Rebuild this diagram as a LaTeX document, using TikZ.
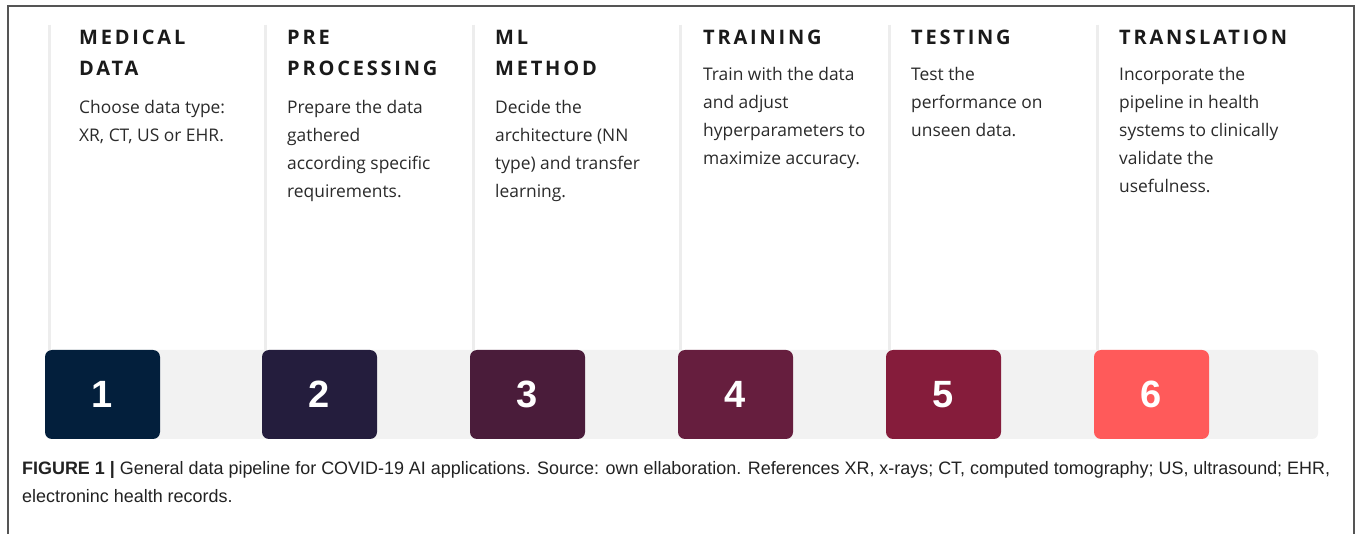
\documentclass[tikz,border=0pt]{standalone}
\usepackage{fontspec}
\setmainfont{Open Sans}
\newfontfamily\titlefont{Open Sans}[LetterSpace=14]
\newfontfamily\numfont{Liberation Sans}
\newfontfamily\capfont{Liberation Sans}
\newsavebox\capboxA
\definecolor{cA}{HTML}{031F3C}
\definecolor{cB}{HTML}{241D3D}
\definecolor{cC}{HTML}{4A1C3A}
\definecolor{cD}{HTML}{661E3E}
\definecolor{cE}{HTML}{851C3B}
\definecolor{cF}{HTML}{FF5A5A}
\definecolor{bandgray}{HTML}{F2F2F2}
\definecolor{rulegray}{HTML}{EDEDED}
\definecolor{framegray}{HTML}{555555}
\definecolor{titlecol}{HTML}{1A1A1A}
\definecolor{bodycol}{HTML}{2A2A2A}
\definecolor{capcol}{HTML}{222222}
\tikzset{
  numbox/.style={rounded corners=7pt, minimum width=115pt, minimum height=89pt, inner sep=0pt,
    text=white, font=\numfont\bfseries\fontsize{38}{38}\selectfont},
  titletext/.style={anchor=base west, inner sep=0pt, text=titlecol},
  bodytext/.style={anchor=base west, inner sep=0pt, text=bodycol},
  colrule/.style={rulegray, line width=3pt},
}
\newcommand{\ttl}[1]{\parbox[t]{220pt}{\titlefont\bfseries\fontsize{20}{31}\selectfont #1}}
\newcommand{\bdy}[1]{\parbox[t]{220pt}{\fontsize{17.4}{28}\selectfont #1}}
\newcommand{\capsx}{1}
\begin{document}
\global\setbox\capboxA=\hbox{\capfont\fontsize{18}{18}\selectfont\textbf{FIGURE 1 |} General data pipeline for COVID-19 AI applications. Source: own ellaboration. References XR, x-rays; CT, computed tomography; US, ultrasound; EHR,}%
\pgfmathsetmacro\capsxval{1308/\wd\capboxA}%
\global\let\capsx\capsxval%
\begin{tikzpicture}[x=1pt,y=-1pt]
\useasboundingbox (0,0) rectangle (1358,534);
\fill[white] (0,0) rectangle (1358,534);
% frame
\draw[framegray, line width=1.5pt] (8,534) -- (8,6) -- (1354,6) -- (1354,534);
% column rules
\foreach \x in {49,265,473,680,889,1097} \draw[colrule] (\x,25) -- (\x,350);
% band
\fill[bandgray, rounded corners=6pt] (45,350) rectangle (1318,439);
% number boxes
\node[numbox, fill=cA] (b1) at (102.5,394.5) {1};
\node[numbox, fill=cB] (b2) at (319.5,394.5) {2};
\node[numbox, fill=cC] (b3) at (527.5,394.5) {3};
\node[numbox, fill=cD] (b4) at (735.5,394.5) {4};
\node[numbox, fill=cE] (b5) at (943.5,394.5) {5};
\node[numbox, fill=cF] (b6) at (1151.5,394.5) {6};
% titles
\node[titletext] (t1) at (79,45) {\ttl{MEDICAL\\DATA}};
\node[titletext] (t2) at (287,45) {\ttl{PRE\\PROCESSING}};
\node[titletext] (t3) at (495,45) {\ttl{ML\\METHOD}};
\node[titletext] (t4) at (703,45) {\ttl{TRAINING}};
\node[titletext] (t5) at (911,45) {\ttl{TESTING}};
\node[titletext] (t6) at (1119,45) {\ttl{TRANSLATION}};
% bodies
\node[bodytext] (d1) at (79,114) {\bdy{Choose data type:\\XR, CT, US or EHR.}};
\node[bodytext] (d2) at (287,114) {\bdy{Prepare the data\\gathered\\according specific\\requirements.}};
\node[bodytext] (d3) at (495,114) {\bdy{Decide the\\architecture (NN\\type) and transfer\\learning.}};
\node[bodytext] (d4) at (703,81) {\bdy{Train with the data\\and adjust\\hyperparameters to\\maximize accuracy.}};
\node[bodytext] (d5) at (911,81) {\bdy{Test the\\performance on\\unseen data.}};
\node[bodytext] (d6) at (1119,81) {\bdy{Incorporate the\\pipeline in health\\systems to clinically\\validate the\\usefulness.}};
% caption
\node[anchor=base west, inner sep=0pt, text=capcol] (cap1) at (22,475) {\scalebox{\capsx}[1]{\usebox\capboxA}};
\node[anchor=base west, inner sep=0pt, text=capcol] (cap2) at (22,503) {\scalebox{\capsx}[1]{\capfont\fontsize{18}{18}\selectfont electroninc health records.}};
\end{tikzpicture}
\end{document}
